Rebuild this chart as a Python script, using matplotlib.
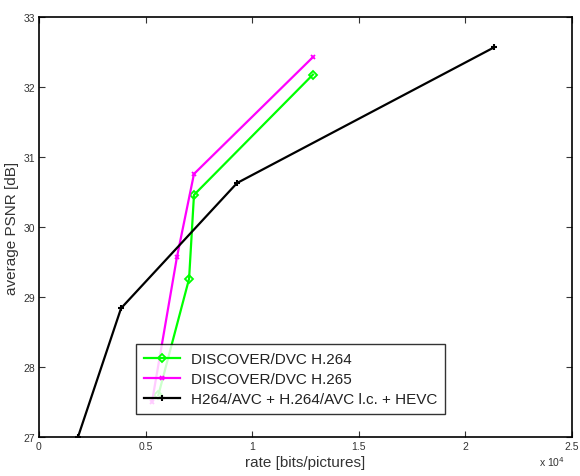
import matplotlib; matplotlib.use("Agg")
import matplotlib.pyplot as plt

plt.rcParams.update({"font.family": ["Liberation Sans", "DejaVu Sans"], "font.size": 8})

# rate in units of 1e4 bits/picture, average PSNR in dB
rate_h264 = [0.56, 0.704, 0.727, 1.285]
psnr_h264 = [27.6, 29.26, 30.46, 32.18]
rate_h265 = [0.53, 0.647, 0.727, 1.285]
psnr_h265 = [27.5, 29.57, 30.76, 32.43]
rate_avc = [0.183, 0.385, 0.929, 2.135]
psnr_avc = [27.0, 28.84, 30.63, 32.57]
labels = ["DISCOVER/DVC H.264", "DISCOVER/DVC H.265", "H264/AVC + H.264/AVC l.c. + HEVC"]
xticks = [0, 0.5, 1, 1.5, 2, 2.5]
yticks = [27, 28, 29, 30, 31, 32, 33]

fig = plt.figure(figsize=(5.8, 4.77), dpi=100)
ax = fig.add_axes([0.0672, 0.0818, 0.919, 0.880])
ax.plot(rate_h264, psnr_h264, "-D", color="#00ff00", lw=1.6, ms=4.5, mfc="none", mew=1.3, label=labels[0])
ax.plot(rate_h265, psnr_h265, "-x", color="#ff00ff", lw=1.6, ms=3.5, mew=1.3, label=labels[1])
ax.plot(rate_avc, psnr_avc, "-+", color="black", lw=1.6, ms=4.5, mew=1.5, label=labels[2])
ax.set_xlim(0, 2.5); ax.set_ylim(27, 33)
ax.set_xticks(xticks); ax.set_xticklabels([f"{t:g}" for t in xticks])
ax.set_yticks(yticks)
ax.tick_params(direction="in", top=True, right=True, length=4, width=0.8, labelsize=7.5, colors="#333333", pad=3)
for s in ax.spines.values():
    s.set_linewidth(1.2)
ax.set_xlabel("rate [bits/pictures]", fontsize=11, color="#333333", labelpad=3)
ax.set_ylabel("average PSNR [dB]", fontsize=11, color="#333333", labelpad=3)
fig.text(0.93, 0.022, r"x 10$^4$", fontsize=7.5, color="#333333")
leg = ax.legend(loc="lower left", bbox_to_anchor=(0.182, 0.055), fontsize=11, frameon=True, fancybox=False,
                edgecolor="black", borderaxespad=0, handlelength=2.4, borderpad=0.5, labelspacing=0.4,
                handletextpad=0.7)
leg.get_frame().set_linewidth(1.0)
for t in leg.get_texts():
    t.set_color("#222222")
fig.savefig("out.png")
